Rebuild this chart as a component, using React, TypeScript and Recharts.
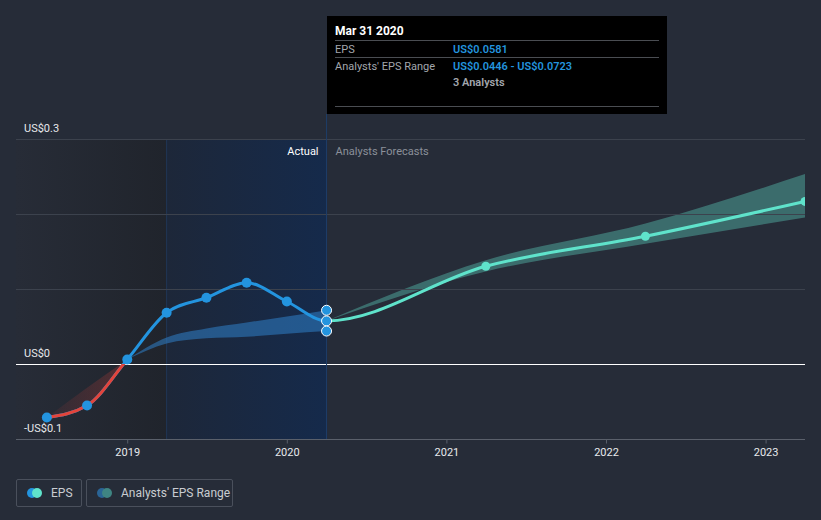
import React from "react";
import {
  Area,
  ComposedChart,
  Line,
  ReferenceArea,
  ReferenceDot,
  ReferenceLine,
  XAxis,
  YAxis,
} from "recharts";

// reported EPS (quarterly, trailing)
const actualDates = [
  "2018-06-30",
  "2018-09-30",
  "2018-12-31",
  "2019-03-31",
  "2019-06-30",
  "2019-09-30",
  "2019-12-31",
  "2020-03-31",
];
const actualEps = [-0.0707, -0.0547, 0.0067, 0.069, 0.089, 0.109, 0.084, 0.0581];

// past analyst estimate range
const pastRangeDates = ["2018-12-31", "2019-03-31", "2019-06-30", "2019-09-30", "2019-12-31", "2020-03-31"];
const pastRangeLow = [0.0067, 0.028, 0.035, 0.037, 0.041, 0.0446];
const pastRangeHigh = [0.0067, 0.036, 0.048, 0.056, 0.064, 0.0723];

// loss period shading
const lossDates = ["2018-06-30", "2018-09-30", "2018-12-31"];
const lossLow = [-0.0707, -0.0547, 0.0067];
const lossHigh = [-0.0707, -0.031, 0.0067];

// forecasts
const forecastDates = ["2021-03-31", "2022-03-31", "2023-03-31"];
const forecastEps = [0.131, 0.171, 0.2175];
const forecastLow = [0.124, 0.161, 0.196];
const forecastHigh = [0.139, 0.188, 0.254];

const yTicks = [-0.1, 0, 0.1, 0.2, 0.3];
const yLabelTicks = [-0.1, 0, 0.3];
const xTicks = [2019, 2020, 2021, 2022, 2023];
const xStart = 2018.3;

const tooltipDate = "Mar 31 2020";
const tooltipEps = 0.0581;
const tooltipLow = 0.0446;
const tooltipHigh = 0.0723;
const tooltipAnalysts = 3;

const BLUE = "#2394df";
const TEAL = "#5fe3cb";
const RED = "#e3443b";
const FONT = "Roboto, 'DejaVu Sans', sans-serif";

const toYear = (s: string) => {
  const [y, m, d] = s.split("-").map(Number);
  const start = Date.UTC(y, 0, 1);
  const end = Date.UTC(y + 1, 0, 1);
  return y + (Date.UTC(y, m - 1, d) - start) / (end - start);
};

type Row = {
  t: number;
  eps?: number;
  past?: [number, number];
  loss?: [number, number];
  fc?: [number, number];
};

const rowsByDate: Record<string, Row> = {};
const row = (d: string) => (rowsByDate[d] ??= { t: toYear(d) });
actualDates.forEach((d, i) => (row(d).eps = actualEps[i]));
forecastDates.forEach((d, i) => (row(d).eps = forecastEps[i]));
pastRangeDates.forEach((d, i) => (row(d).past = [pastRangeLow[i], pastRangeHigh[i]]));
lossDates.forEach((d, i) => (row(d).loss = [lossLow[i], lossHigh[i]]));
const cutoffDate = actualDates[actualDates.length - 1];
row(cutoffDate).fc = [actualEps[actualEps.length - 1], actualEps[actualEps.length - 1]];
forecastDates.forEach((d, i) => (row(d).fc = [forecastLow[i], forecastHigh[i]]));
const data = Object.values(rowsByDate).sort((a, b) => a.t - b.t);

const cutoff = toYear(cutoffDate);
const firstT = data[0].t;
const lastT = data[data.length - 1].t;
const allEps = [...actualEps, ...forecastEps];
const maxEps = Math.max(...allEps);
const minEps = Math.min(...allEps);
const splitX = (cutoff - firstT) / (lastT - firstT);
const splitY = maxEps / (maxEps - minEps);

const money = (v: number) => (v < 0 ? "-US$" + Math.abs(v) : "US$" + v);

const YLabel = (props: any) => {
  const { x, y } = props.viewBox;
  return (
    <text x={x + 8} y={y - 8} fill="#e6e8eb" fontSize={11} fontFamily={FONT} textAnchor="start">
      {props.text}
    </text>
  );
};

const EpsDot = (props: any) => {
  const { cx, cy, payload, index } = props;
  if (cy == null) return <g key={index} />;
  if (payload.t > cutoff + 0.01) return <circle key={index} cx={cx} cy={cy} r={4.5} fill={TEAL} />;
  if (Math.abs(payload.t - cutoff) < 0.01)
    return <circle key={index} cx={cx} cy={cy} r={5} fill={BLUE} stroke="#fff" strokeWidth={1} />;
  return <circle key={index} cx={cx} cy={cy} r={5} fill={BLUE} />;
};

const SplitLabels = (props: any) => {
  const { x, y, width } = props.viewBox;
  const edge = x + width;
  return (
    <g fontFamily={FONT} fontSize={11}>
      <text x={edge - 8} y={y + 15} fill="#ffffff" textAnchor="end">
        Actual
      </text>
      <text x={edge + 9} y={y + 15} fill="#8b909a" textAnchor="start">
        Analysts Forecasts
      </text>
    </g>
  );
};

const rowStyle: React.CSSProperties = {
  display: "flex",
  borderTop: "1px solid #4a4d52",
  height: 16,
  alignItems: "center",
};

export default function App() {
  return (
    <div
      style={{
        position: "absolute",
        left: 0,
        top: 0,
        width: 821,
        height: 520,
        background: "#262c38",
        fontFamily: FONT,
        overflow: "hidden",
      }}
    >
      <ComposedChart width={821} height={520} data={data} margin={{ top: 139.5, right: 16, bottom: 50.5, left: 16 }}>
        <defs>
          <linearGradient id="pastBg" x1="0" y1="0" x2="1" y2="0">
            <stop offset="0%" stopColor="#272c37" />
            <stop offset="100%" stopColor="#20242c" />
          </linearGradient>
          <linearGradient id="actualBg" x1="0" y1="0" x2="1" y2="0">
            <stop offset="0%" stopColor="#1d2739" />
            <stop offset="100%" stopColor="#152a4b" />
          </linearGradient>
          <linearGradient id="epsStroke" x1="0" y1="0" x2="1" y2="0">
            <stop offset={splitX} stopColor={BLUE} />
            <stop offset={splitX} stopColor={TEAL} />
          </linearGradient>
          <linearGradient id="negStroke" x1="0" y1="0" x2="0" y2="1">
            <stop offset={splitY} stopColor={RED} stopOpacity={0} />
            <stop offset={splitY} stopColor={RED} stopOpacity={1} />
          </linearGradient>
          <linearGradient id="lossFill" x1="0" y1="0" x2="1" y2="0">
            <stop offset="0%" stopColor={RED} stopOpacity={0.06} />
            <stop offset="100%" stopColor={RED} stopOpacity={0.25} />
          </linearGradient>
        </defs>
        <XAxis
          dataKey="t"
          type="number"
          domain={[xStart, "dataMax"]}
          ticks={xTicks}
          allowDataOverflow
          axisLine={{ stroke: "#5a606b" }}
          tickLine={{ stroke: "#5a606b" }}
          tickSize={4}
          tickMargin={5}
          tick={{ fill: "#e8eaed", fontSize: 11, fontFamily: FONT }}
          tickFormatter={(v) => String(v)}
        />
        <YAxis type="number" domain={[-0.1, 0.3]} ticks={yTicks} width={0} hide />
        <ReferenceArea
          x1={xStart}
          x2={toYear(actualDates[3])}
          y1={-0.1}
          y2={0.3}
          fill="url(#pastBg)"
          fillOpacity={1}
        />
        <ReferenceArea
          x1={toYear(actualDates[3])}
          x2={cutoff}
          y1={-0.1}
          y2={0.3}
          fill="url(#actualBg)"
          fillOpacity={1}
          stroke="#1f3556"
          strokeWidth={1}
          label={<SplitLabels />}
        />
        {yTicks.map((v) => (
          <ReferenceLine
            key={v}
            y={v}
            stroke={v === 0 ? "#ffffff" : "#3c424d"}
            strokeWidth={1}
            label={yLabelTicks.includes(v) ? <YLabel text={money(v)} /> : undefined}
          />
        ))}
        <ReferenceLine
          segment={[
            { x: cutoff, y: -0.1 },
            { x: cutoff, y: 0.334 },
          ]}
          stroke="#1e3d68"
          strokeWidth={1}
          ifOverflow="visible"
        />
        <Area
          dataKey="loss"
          type="monotone"
          stroke="none"
          fill="url(#lossFill)"
          fillOpacity={1}
          isAnimationActive={false}
          dot={false}
          activeDot={false}
        />
        <Area
          dataKey="past"
          type="monotone"
          stroke="none"
          fill="#2f7fc8"
          fillOpacity={0.55}
          isAnimationActive={false}
          dot={false}
          activeDot={false}
        />
        <Area
          dataKey="fc"
          type="monotone"
          stroke="none"
          fill="#5fd6c2"
          fillOpacity={0.38}
          isAnimationActive={false}
          dot={false}
          activeDot={false}
        />
        <Line
          dataKey="eps"
          type="monotone"
          stroke="url(#epsStroke)"
          strokeWidth={3}
          dot={false}
          activeDot={false}
          isAnimationActive={false}
        />
        <Line
          dataKey="eps"
          type="monotone"
          stroke="url(#negStroke)"
          strokeWidth={3}
          dot={<EpsDot />}
          activeDot={false}
          isAnimationActive={false}
        />
        <ReferenceDot x={cutoff} y={tooltipHigh} r={5} fill={BLUE} stroke="#fff" strokeWidth={1} />
        <ReferenceDot x={cutoff} y={tooltipLow} r={5} fill={BLUE} stroke="#fff" strokeWidth={1} />
      </ComposedChart>

      {/* static tooltip */}
      <div
        style={{
          position: "absolute",
          left: 327,
          top: 16,
          width: 340,
          height: 98,
          background: "#000",
          boxSizing: "border-box",
          padding: "6px 8px 0 8px",
          fontSize: 11,
          color: "#a3a7ad",
        }}
      >
        <div style={{ color: "#fff", fontWeight: 700, fontSize: 12, height: 18, lineHeight: "18px" }}>{tooltipDate}</div>
        <div style={rowStyle}>
          <span style={{ width: 118 }}>EPS</span>
          <span style={{ color: BLUE, fontWeight: 600 }}>{"US$" + tooltipEps}</span>
        </div>
        <div style={rowStyle}>
          <span style={{ width: 118 }}>Analysts' EPS Range</span>
          <span style={{ color: BLUE, fontWeight: 600 }}>
            {"US$" + tooltipLow + " - US$" + tooltipHigh}
          </span>
        </div>
        <div style={{ display: "flex", height: 16, alignItems: "center" }}>
          <span style={{ width: 118 }} />
          <span style={{ color: "#a3a7ad", fontWeight: 600 }}>{tooltipAnalysts + " Analysts"}</span>
        </div>
        <div style={{ borderTop: "1px solid #4a4d52", marginTop: 16 }} />
      </div>

      {/* legend */}
      <div style={{ position: "absolute", left: 16, top: 479, display: "flex", gap: 4 }}>
        {[
          { label: "EPS", c1: BLUE, c2: TEAL, w: 66 },
          { label: "Analysts' EPS Range", c1: "#2a6496", c2: "#3f8583", w: 147 },
        ].map((it) => (
          <div
            key={it.label}
            style={{
              width: it.w,
              height: 28,
              boxSizing: "border-box",
              border: "1px solid #4a505c",
              borderRadius: 2,
              display: "flex",
              alignItems: "center",
              paddingLeft: 10,
              color: "#c9ccd1",
              fontSize: 12,
            }}
          >
            <span style={{ position: "relative", width: 18, height: 10, marginRight: 6 }}>
              <span style={{ position: "absolute", left: 0, top: 0, width: 10, height: 10, borderRadius: 5, background: it.c1 }} />
              <span style={{ position: "absolute", left: 5, top: 0, width: 10, height: 10, borderRadius: 5, background: it.c2 }} />
            </span>
            {it.label}
          </div>
        ))}
      </div>
    </div>
  );
}
